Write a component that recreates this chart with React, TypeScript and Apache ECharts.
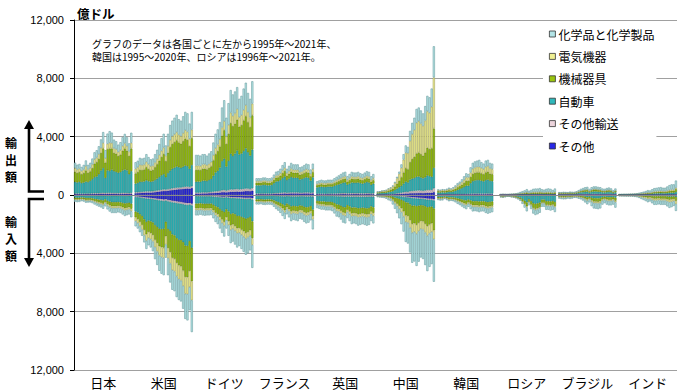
import React, { useEffect, useRef } from 'react';
import * as echarts from 'echarts';

const COUNTRIES = ['日本', '米国', 'ドイツ', 'フランス', '英国', '中国', '韓国', 'ロシア', 'ブラジル', 'インド'];
const YEARS = [1995, 1996, 1997, 1998, 1999, 2000, 2001, 2002, 2003, 2004, 2005, 2006, 2007, 2008, 2009, 2010, 2011, 2012, 2013, 2014, 2015, 2016, 2017, 2018, 2019, 2020, 2021];
// stacking order from the zero line outward
const SERIES_NAMES = ['その他', 'その他輸送', '自動車', '機械器具', '電気機器', '化学品と化学製品'];
const LEGEND_ORDER = ['化学品と化学製品', '電気機器', '機械器具', '自動車', 'その他輸送', 'その他'];
const COLORS = ['#2828e6', '#ecd4dc', '#30b8bb', '#99c40e', '#f0f092', '#b3e4e6'];
const EDGE_COLORS = ['#15158a', '#9a8890', '#1d7f82', '#5f7d05', '#a3a35e', '#6e9fa1'];
const Y_TICK_LABELS = ['12,000', '8,000', '4,000', '0', '4,000', '8,000', '12,000'];

// 億ドル ; rows: その他, その他輸送, 自動車, 機械器具, 電気機器, 化学品と化学製品
const JP_EXPORT = [
  [60, 60, 60, 55, 55, 60, 60, 60, 65, 70, 70, 70, 75, 80, 70, 80, 80, 80, 75, 75, 70, 70, 75, 80, 80, 70, 80],
  [40, 40, 40, 40, 40, 40, 40, 40, 45, 50, 50, 55, 60, 65, 55, 60, 60, 60, 55, 55, 55, 55, 60, 60, 60, 55, 60],
  [800, 760, 800, 720, 760, 820, 780, 870, 980, 1100, 1150, 1300, 1550, 1700, 1050, 1550, 1500, 1600, 1500, 1450, 1400, 1450, 1550, 1600, 1550, 1300, 1500],
  [680, 650, 670, 610, 650, 760, 640, 650, 750, 930, 980, 1050, 1200, 1350, 1050, 1450, 1550, 1450, 1250, 1250, 1150, 1200, 1350, 1450, 1350, 1250, 1550],
  [260, 240, 240, 220, 240, 290, 230, 240, 260, 300, 320, 330, 350, 370, 300, 370, 390, 370, 320, 310, 280, 300, 330, 350, 320, 310, 380],
  [380, 330, 320, 280, 320, 400, 320, 350, 400, 480, 500, 540, 580, 750, 550, 700, 800, 720, 600, 550, 500, 550, 600, 650, 600, 560, 700],
];
const JP_IMPORT = [
  [20, 20, 20, 20, 20, 20, 20, 20, 20, 25, 25, 25, 25, 30, 25, 30, 30, 30, 30, 30, 30, 30, 30, 35, 35, 30, 35],
  [20, 20, 20, 20, 20, 20, 20, 20, 20, 20, 25, 25, 25, 25, 20, 25, 25, 25, 25, 25, 25, 25, 25, 25, 25, 25, 25],
  [140, 150, 150, 130, 140, 170, 170, 170, 190, 220, 240, 270, 290, 320, 260, 340, 400, 440, 440, 440, 430, 450, 490, 520, 500, 480, 540],
  [110, 120, 115, 100, 110, 130, 125, 120, 130, 150, 170, 190, 200, 220, 180, 230, 260, 280, 280, 280, 270, 280, 300, 330, 320, 310, 350],
  [50, 55, 50, 45, 50, 60, 55, 55, 60, 70, 80, 85, 95, 100, 85, 110, 120, 130, 130, 130, 125, 130, 140, 150, 145, 140, 160],
  [120, 130, 125, 110, 115, 130, 130, 125, 140, 165, 185, 205, 220, 250, 210, 255, 300, 330, 330, 330, 310, 320, 350, 380, 365, 350, 420],
];
const US_EXPORT = [
  [120, 130, 140, 150, 160, 170, 170, 170, 180, 200, 220, 240, 260, 280, 280, 300, 320, 340, 360, 380, 390, 400, 420, 440, 450, 440, 480],
  [60, 60, 65, 70, 70, 75, 75, 75, 75, 80, 85, 90, 95, 100, 90, 100, 105, 110, 115, 120, 115, 115, 120, 125, 125, 110, 120],
  [600, 640, 700, 680, 700, 760, 700, 660, 680, 740, 820, 900, 1000, 1050, 850, 1100, 1250, 1350, 1400, 1450, 1400, 1350, 1400, 1450, 1400, 1250, 1450],
  [700, 740, 820, 800, 820, 900, 830, 770, 780, 880, 980, 1120, 1250, 1380, 1100, 1400, 1600, 1700, 1750, 1800, 1700, 1650, 1750, 1850, 1800, 1550, 1850],
  [320, 330, 350, 340, 340, 370, 330, 300, 300, 330, 360, 400, 430, 450, 380, 450, 500, 530, 540, 560, 530, 520, 550, 580, 570, 500, 580],
  [450, 450, 475, 460, 460, 525, 495, 475, 485, 570, 635, 750, 865, 940, 700, 850, 1025, 1070, 1135, 1190, 1065, 1065, 1160, 1255, 1255, 1050, 1220],
];
const US_IMPORT = [
  [100, 110, 125, 140, 160, 180, 190, 200, 220, 240, 260, 280, 300, 320, 300, 340, 370, 400, 420, 450, 470, 490, 520, 550, 570, 560, 600],
  [40, 45, 50, 55, 60, 65, 65, 65, 70, 75, 80, 85, 90, 95, 85, 95, 100, 105, 105, 110, 110, 110, 115, 120, 120, 100, 120],
  [1000, 1050, 1150, 1250, 1450, 1600, 1500, 1550, 1600, 1750, 1850, 1950, 1950, 1900, 1450, 1900, 2000, 2200, 2250, 2400, 2500, 2500, 2600, 2800, 2800, 2500, 2900],
  [400, 450, 520, 600, 720, 850, 780, 800, 850, 1000, 1100, 1200, 1250, 1300, 1000, 1300, 1450, 1600, 1600, 1700, 1750, 1800, 1950, 2150, 2150, 2050, 2300],
  [250, 270, 300, 330, 380, 440, 410, 420, 450, 520, 580, 640, 680, 700, 560, 700, 780, 850, 870, 920, 950, 970, 1050, 1150, 1160, 1100, 1300],
  [360, 375, 405, 425, 480, 565, 505, 565, 660, 815, 930, 1045, 1130, 1185, 905, 1165, 1300, 1345, 1355, 1420, 1420, 1430, 1565, 1730, 1800, 1590, 2180],
];
const DE_EXPORT = [
  [100, 100, 100, 110, 110, 110, 120, 130, 140, 150, 160, 170, 190, 200, 180, 200, 220, 220, 230, 240, 230, 240, 250, 270, 270, 260, 300],
  [60, 60, 60, 65, 65, 65, 70, 75, 85, 95, 100, 110, 130, 140, 120, 140, 160, 155, 160, 165, 150, 155, 165, 175, 165, 140, 165],
  [750, 760, 750, 800, 810, 780, 840, 900, 1100, 1300, 1400, 1600, 2000, 2150, 1650, 2000, 2450, 2300, 2450, 2650, 2400, 2450, 2600, 2750, 2500, 2300, 2650],
  [800, 800, 790, 820, 820, 800, 820, 860, 1050, 1250, 1350, 1450, 1750, 1950, 1550, 1850, 2100, 2050, 2050, 2100, 1900, 1950, 2100, 2200, 2050, 1950, 2350],
  [300, 300, 290, 300, 300, 290, 300, 310, 360, 420, 450, 490, 560, 620, 520, 620, 720, 700, 710, 750, 650, 680, 720, 760, 700, 670, 800],
  [740, 730, 710, 705, 695, 655, 700, 725, 865, 985, 1040, 1180, 1370, 1440, 1280, 1490, 1550, 1475, 1500, 1495, 1270, 1325, 1465, 1545, 1315, 1280, 1535],
];
const DE_IMPORT = [
  [60, 60, 60, 65, 65, 65, 70, 70, 80, 90, 100, 110, 120, 130, 110, 130, 150, 150, 160, 170, 170, 180, 190, 200, 200, 190, 230],
  [30, 30, 30, 30, 30, 30, 30, 30, 35, 40, 45, 50, 55, 60, 50, 55, 60, 60, 65, 65, 65, 70, 70, 75, 75, 65, 80],
  [500, 500, 480, 500, 510, 500, 500, 490, 560, 650, 700, 800, 900, 980, 820, 950, 1100, 1050, 1100, 1200, 1200, 1250, 1300, 1350, 1300, 1250, 1500],
  [330, 330, 320, 330, 335, 330, 330, 325, 380, 440, 470, 540, 610, 670, 540, 660, 780, 760, 810, 850, 830, 880, 930, 980, 960, 920, 1150],
  [130, 130, 125, 130, 130, 130, 130, 125, 145, 170, 185, 210, 240, 260, 210, 260, 310, 300, 320, 340, 330, 350, 370, 390, 380, 360, 460],
  [350, 350, 335, 345, 350, 345, 340, 340, 400, 460, 500, 590, 675, 750, 570, 745, 900, 880, 945, 975, 905, 970, 1040, 1105, 1085, 1015, 1580],
];
const FR_EXPORT = [
  [60, 60, 60, 60, 60, 60, 60, 60, 70, 80, 80, 90, 100, 110, 90, 100, 110, 110, 110, 110, 100, 100, 110, 110, 110, 100, 110],
  [40, 40, 40, 40, 40, 40, 40, 40, 45, 50, 50, 55, 60, 65, 55, 60, 65, 60, 60, 60, 55, 55, 60, 60, 60, 50, 60],
  [560, 560, 560, 590, 590, 560, 560, 590, 690, 790, 810, 880, 1000, 1090, 880, 970, 1060, 1010, 1010, 1010, 910, 940, 990, 1040, 1010, 840, 1040],
  [180, 180, 180, 190, 190, 180, 180, 190, 230, 260, 270, 300, 340, 380, 300, 330, 370, 350, 350, 350, 320, 330, 340, 360, 350, 290, 360],
  [110, 110, 110, 115, 115, 110, 110, 115, 135, 150, 155, 170, 190, 210, 170, 190, 210, 200, 200, 200, 180, 185, 190, 200, 195, 165, 200],
  [200, 200, 200, 205, 205, 200, 200, 205, 230, 270, 285, 305, 360, 395, 305, 350, 385, 370, 370, 370, 335, 340, 360, 380, 375, 305, 380],
];
const FR_IMPORT = [
  [40, 40, 38, 40, 42, 40, 40, 42, 45, 50, 55, 60, 65, 70, 60, 65, 70, 70, 70, 70, 65, 65, 70, 72, 72, 68, 80],
  [20, 20, 20, 20, 20, 20, 20, 20, 22, 25, 28, 30, 32, 35, 30, 32, 35, 35, 35, 35, 32, 32, 35, 36, 36, 32, 40],
  [240, 240, 230, 250, 255, 245, 245, 255, 300, 360, 400, 460, 540, 620, 500, 580, 680, 640, 660, 680, 620, 640, 700, 740, 720, 660, 880],
  [130, 130, 125, 135, 135, 130, 130, 135, 160, 190, 210, 240, 280, 320, 260, 300, 350, 330, 340, 350, 320, 330, 360, 380, 370, 340, 450],
  [60, 60, 60, 65, 65, 65, 65, 65, 80, 95, 105, 120, 140, 160, 130, 150, 175, 165, 170, 175, 160, 165, 180, 190, 185, 170, 230],
  [160, 160, 155, 160, 165, 160, 160, 165, 200, 245, 275, 320, 380, 440, 350, 410, 485, 455, 470, 485, 440, 455, 500, 530, 515, 470, 680],
];
const UK_EXPORT = [
  [50, 50, 52, 50, 50, 52, 52, 52, 55, 58, 60, 62, 65, 68, 60, 62, 65, 65, 65, 66, 62, 60, 62, 65, 64, 55, 60],
  [40, 40, 42, 40, 40, 42, 42, 42, 44, 46, 48, 50, 52, 55, 48, 50, 52, 52, 52, 53, 50, 48, 50, 52, 51, 44, 48],
  [430, 460, 480, 460, 460, 480, 480, 480, 530, 580, 620, 670, 720, 740, 600, 670, 740, 720, 720, 740, 700, 670, 720, 770, 740, 600, 670],
  [150, 160, 170, 160, 160, 170, 170, 170, 185, 200, 220, 235, 250, 260, 210, 235, 260, 250, 250, 260, 240, 235, 250, 265, 260, 210, 235],
  [90, 95, 100, 95, 95, 100, 100, 100, 110, 120, 130, 140, 150, 155, 125, 140, 155, 150, 150, 155, 145, 140, 150, 160, 155, 125, 140],
  [190, 195, 205, 195, 195, 205, 205, 205, 225, 245, 265, 285, 305, 315, 255, 285, 315, 305, 305, 315, 295, 285, 305, 325, 315, 255, 285],
];
const UK_IMPORT = [
  [40, 40, 42, 42, 44, 44, 44, 46, 50, 55, 58, 62, 66, 68, 60, 64, 68, 68, 68, 70, 70, 68, 70, 72, 70, 64, 68],
  [30, 30, 31, 31, 32, 32, 32, 33, 36, 40, 42, 45, 48, 50, 44, 47, 50, 50, 50, 52, 52, 50, 52, 53, 52, 46, 50],
  [330, 350, 370, 370, 390, 390, 390, 410, 470, 550, 570, 630, 710, 730, 590, 670, 750, 730, 750, 790, 770, 750, 770, 790, 770, 670, 730],
  [190, 200, 210, 210, 220, 220, 220, 230, 260, 300, 310, 340, 380, 390, 320, 360, 400, 390, 400, 420, 410, 400, 410, 420, 410, 360, 390],
  [90, 95, 100, 100, 105, 105, 105, 110, 125, 145, 150, 165, 185, 190, 155, 175, 195, 190, 195, 205, 200, 195, 200, 205, 200, 175, 190],
  [220, 235, 250, 250, 265, 265, 265, 280, 325, 385, 400, 445, 505, 520, 415, 475, 535, 520, 535, 565, 550, 535, 550, 565, 550, 475, 520],
];
const CN_EXPORT = [
  [20, 20, 25, 25, 30, 35, 40, 45, 55, 65, 75, 85, 95, 105, 100, 115, 120, 125, 130, 135, 135, 130, 140, 150, 150, 160, 200],
  [10, 10, 15, 15, 15, 20, 20, 25, 35, 45, 55, 70, 90, 110, 110, 140, 150, 160, 170, 180, 170, 160, 170, 190, 190, 190, 260],
  [80, 90, 100, 105, 115, 140, 160, 190, 250, 330, 400, 480, 600, 700, 650, 800, 850, 880, 950, 950, 900, 850, 900, 1000, 950, 900, 1400],
  [60, 65, 75, 80, 90, 115, 135, 170, 240, 340, 440, 580, 760, 920, 900, 1200, 1350, 1450, 1600, 1650, 1600, 1550, 1700, 1900, 1850, 1950, 2700],
  [40, 45, 55, 60, 65, 100, 120, 160, 240, 360, 480, 650, 880, 1060, 1100, 1450, 1700, 1850, 2100, 2150, 2100, 2050, 2200, 2500, 2500, 2850, 3500],
  [20, 20, 30, 35, 35, 40, 45, 60, 80, 110, 150, 235, 375, 505, 440, 695, 780, 835, 950, 935, 895, 860, 990, 1060, 1060, 1250, 2140],
];
const CN_IMPORT = [
  [10, 10, 10, 12, 15, 20, 25, 30, 40, 50, 60, 75, 90, 110, 120, 140, 160, 170, 180, 190, 200, 210, 230, 250, 260, 270, 300],
  [5, 5, 5, 6, 8, 10, 12, 15, 20, 25, 30, 35, 40, 45, 45, 50, 55, 55, 60, 60, 60, 60, 65, 70, 70, 70, 80],
  [15, 17, 20, 22, 27, 40, 45, 80, 120, 150, 180, 220, 280, 350, 360, 450, 520, 500, 530, 480, 440, 450, 480, 520, 480, 460, 550],
  [45, 50, 55, 60, 75, 105, 120, 190, 280, 370, 470, 580, 720, 900, 920, 1080, 1250, 1220, 1280, 1180, 1080, 1100, 1200, 1300, 1220, 1150, 1500],
  [20, 23, 25, 28, 35, 50, 55, 90, 130, 170, 220, 280, 350, 440, 450, 520, 600, 580, 620, 580, 540, 550, 600, 650, 610, 580, 600],
  [55, 65, 75, 82, 100, 135, 163, 245, 360, 485, 640, 815, 1030, 1375, 1435, 1700, 2065, 2035, 2195, 2085, 1965, 2020, 2230, 2430, 2290, 2210, 2920],
];
const KR_EXPORT = [
  [20, 20, 20, 20, 20, 22, 22, 22, 24, 26, 28, 30, 32, 34, 34, 38, 40, 40, 42, 42, 40, 40, 42, 42, 40, 40, null],
  [20, 20, 22, 20, 22, 24, 22, 24, 26, 30, 32, 36, 40, 44, 44, 50, 55, 56, 58, 58, 56, 54, 58, 60, 56, 54, null],
  [130, 125, 140, 130, 150, 175, 160, 190, 240, 300, 340, 400, 480, 560, 560, 720, 850, 900, 920, 920, 880, 840, 920, 950, 870, 850, null],
  [90, 85, 95, 90, 100, 115, 105, 120, 145, 175, 205, 240, 280, 330, 330, 430, 500, 520, 530, 530, 510, 490, 530, 540, 500, 480, null],
  [60, 55, 60, 60, 70, 80, 75, 85, 105, 135, 155, 180, 210, 240, 240, 300, 350, 370, 380, 380, 370, 350, 380, 390, 360, 350, null],
  [60, 55, 65, 60, 70, 90, 70, 95, 120, 150, 160, 190, 240, 280, 230, 360, 410, 420, 430, 480, 400, 380, 430, 430, 380, 380, null],
];
const KR_IMPORT = [
  [10, 10, 10, 8, 10, 12, 11, 12, 13, 15, 16, 18, 20, 21, 18, 21, 24, 23, 24, 25, 24, 24, 26, 27, 26, 25, null],
  [10, 11, 11, 9, 10, 11, 10, 11, 12, 14, 15, 17, 19, 20, 17, 20, 22, 22, 23, 24, 23, 23, 25, 26, 25, 24, null],
  [120, 130, 125, 95, 120, 150, 140, 150, 175, 210, 240, 275, 310, 335, 280, 335, 385, 385, 385, 400, 385, 385, 420, 440, 420, 400, null],
  [85, 95, 90, 70, 85, 105, 100, 105, 125, 150, 170, 195, 220, 235, 200, 235, 275, 275, 275, 290, 275, 275, 300, 310, 300, 290, null],
  [35, 38, 37, 28, 35, 43, 40, 43, 50, 60, 68, 78, 88, 95, 80, 95, 110, 110, 110, 115, 110, 110, 120, 125, 120, 115, null],
  [90, 97, 98, 67, 90, 112, 100, 112, 130, 160, 182, 212, 242, 265, 220, 265, 310, 290, 310, 325, 310, 310, 340, 355, 340, 325, null],
];
const RU_EXPORT = [
  [null, 10, 10, 10, 10, 10, 10, 11, 12, 14, 16, 18, 20, 22, 18, 20, 22, 22, 22, 23, 20, 19, 21, 22, 21, 18, 22],
  [null, 8, 9, 8, 8, 9, 10, 10, 11, 13, 15, 17, 19, 21, 17, 19, 21, 21, 21, 22, 19, 18, 20, 21, 20, 17, 21],
  [null, 5, 5, 5, 5, 5, 8, 10, 12, 15, 20, 25, 30, 35, 25, 30, 40, 40, 40, 45, 35, 30, 35, 40, 35, 30, 40],
  [null, 10, 12, 11, 10, 12, 14, 16, 20, 28, 38, 48, 58, 75, 55, 65, 80, 85, 85, 90, 75, 70, 80, 85, 80, 65, 85],
  [null, 5, 6, 5, 5, 6, 7, 8, 10, 14, 18, 22, 27, 35, 25, 30, 38, 40, 40, 42, 35, 32, 37, 40, 37, 30, 40],
  [null, 20, 27, 24, 20, 27, 31, 36, 48, 73, 104, 135, 165, 215, 155, 185, 222, 235, 235, 253, 215, 198, 228, 245, 228, 185, 235],
];
const RU_IMPORT = [
  [null, 5, 5, 5, 4, 4, 5, 5, 6, 7, 8, 10, 12, 14, 10, 12, 14, 15, 14, 13, 10, 10, 12, 12, 12, 12, 13],
  [null, 10, 10, 9, 8, 8, 9, 10, 11, 12, 14, 17, 20, 23, 17, 20, 23, 24, 23, 22, 17, 17, 20, 20, 21, 20, 22],
  [null, 55, 65, 50, 35, 40, 55, 65, 85, 115, 160, 250, 360, 470, 260, 390, 530, 570, 540, 490, 290, 290, 390, 390, 410, 380, 440],
  [null, 40, 45, 38, 27, 30, 40, 48, 60, 78, 100, 150, 210, 270, 180, 240, 310, 340, 330, 300, 210, 210, 250, 250, 260, 250, 290],
  [null, 10, 12, 10, 7, 8, 10, 12, 16, 20, 27, 40, 56, 72, 48, 64, 83, 90, 87, 80, 56, 56, 67, 67, 70, 67, 77],
  [null, 30, 33, 27, 16, 17, 30, 40, 54, 72, 98, 145, 209, 273, 197, 241, 312, 335, 328, 315, 229, 229, 278, 278, 295, 288, 328],
];
const BR_EXPORT = [
  [10, 10, 11, 10, 10, 11, 11, 11, 12, 14, 16, 18, 20, 21, 17, 20, 22, 22, 21, 20, 18, 17, 19, 20, 18, 14, 18],
  [25, 25, 27, 26, 25, 28, 27, 27, 30, 36, 42, 46, 50, 52, 42, 50, 55, 55, 52, 50, 44, 42, 46, 48, 44, 34, 44],
  [50, 50, 55, 52, 48, 58, 55, 55, 65, 90, 120, 135, 150, 155, 110, 150, 165, 165, 155, 150, 120, 115, 135, 145, 125, 85, 120],
  [45, 45, 50, 48, 45, 52, 50, 50, 57, 72, 90, 100, 112, 118, 90, 112, 125, 125, 118, 112, 95, 90, 100, 108, 97, 72, 95],
  [10, 10, 11, 10, 10, 12, 11, 11, 13, 16, 20, 22, 25, 26, 20, 25, 28, 28, 26, 25, 21, 20, 22, 24, 22, 16, 21],
  [60, 60, 69, 65, 62, 73, 69, 69, 80, 107, 135, 158, 178, 186, 145, 178, 197, 197, 186, 178, 149, 140, 158, 168, 151, 112, 149],
];
const BR_IMPORT = [
  [5, 5, 5, 5, 5, 5, 5, 4, 4, 5, 6, 7, 9, 10, 8, 11, 13, 13, 13, 12, 9, 8, 9, 10, 10, 9, 12],
  [10, 11, 11, 11, 10, 10, 10, 8, 8, 10, 11, 13, 16, 19, 16, 20, 23, 24, 24, 23, 17, 15, 17, 18, 18, 17, 22],
  [50, 60, 65, 60, 45, 50, 45, 35, 35, 45, 55, 70, 100, 130, 100, 160, 190, 190, 195, 180, 120, 95, 120, 130, 125, 110, 150],
  [65, 70, 75, 72, 62, 68, 62, 50, 52, 65, 75, 95, 125, 155, 125, 185, 225, 230, 235, 225, 160, 135, 160, 175, 175, 160, 210],
  [30, 34, 36, 35, 30, 33, 30, 24, 25, 31, 36, 46, 60, 75, 60, 90, 108, 110, 114, 108, 78, 66, 78, 84, 84, 78, 102],
  [90, 101, 109, 108, 98, 104, 98, 76, 83, 104, 119, 154, 200, 245, 200, 300, 362, 375, 391, 372, 277, 239, 277, 296, 301, 287, 373],
];
const IN_EXPORT = [
  [5, 5, 5, 5, 5, 6, 6, 6, 7, 8, 9, 10, 11, 12, 11, 13, 15, 15, 16, 16, 15, 15, 17, 19, 20, 20, 24],
  [5, 5, 5, 5, 6, 6, 6, 7, 8, 9, 10, 11, 12, 13, 12, 14, 16, 16, 17, 17, 16, 16, 18, 20, 21, 21, 26],
  [8, 9, 10, 10, 11, 12, 13, 15, 18, 23, 28, 35, 42, 52, 48, 62, 75, 78, 85, 90, 80, 80, 95, 110, 120, 115, 160],
  [12, 13, 14, 14, 15, 17, 18, 20, 24, 30, 36, 44, 52, 64, 60, 76, 90, 94, 100, 104, 96, 96, 112, 130, 140, 140, 190],
  [6, 6, 7, 7, 7, 8, 9, 10, 12, 15, 18, 22, 26, 32, 30, 38, 45, 47, 50, 52, 48, 48, 56, 65, 70, 70, 95],
  [24, 27, 29, 29, 32, 38, 40, 45, 56, 72, 88, 109, 130, 162, 152, 194, 230, 241, 255, 264, 246, 246, 287, 335, 360, 365, 495],
];
const IN_IMPORT = [
  [5, 5, 5, 5, 5, 5, 6, 6, 7, 8, 10, 12, 14, 16, 14, 17, 20, 20, 19, 20, 20, 20, 23, 26, 24, 22, 30],
  [5, 5, 5, 5, 5, 5, 5, 6, 7, 8, 10, 11, 12, 14, 12, 15, 17, 17, 16, 17, 17, 17, 19, 21, 20, 18, 25],
  [6, 7, 7, 8, 8, 8, 9, 10, 12, 16, 22, 27, 32, 38, 34, 44, 52, 52, 50, 52, 52, 52, 60, 68, 64, 58, 84],
  [20, 21, 22, 24, 25, 25, 27, 32, 37, 50, 68, 83, 100, 120, 108, 138, 163, 163, 155, 163, 163, 163, 188, 213, 200, 180, 263],
  [16, 17, 18, 19, 20, 20, 22, 26, 30, 40, 54, 66, 80, 96, 86, 110, 130, 130, 124, 130, 130, 130, 150, 170, 160, 144, 210],
  [28, 30, 33, 34, 37, 37, 42, 52, 61, 84, 116, 144, 178, 216, 192, 248, 295, 295, 281, 295, 295, 295, 342, 389, 366, 328, 483],
];

const EXPORTS = [JP_EXPORT, US_EXPORT, DE_EXPORT, FR_EXPORT, UK_EXPORT, CN_EXPORT, KR_EXPORT, RU_EXPORT, BR_EXPORT, IN_EXPORT];
const IMPORTS = [JP_IMPORT, US_IMPORT, DE_IMPORT, FR_IMPORT, UK_IMPORT, CN_IMPORT, KR_IMPORT, RU_IMPORT, BR_IMPORT, IN_IMPORT];

const FONT_JP = '"Noto Sans CJK JP", "Noto Sans", sans-serif';

function buildOption() {
  const slots = YEARS.length + 1;
  const categories: string[] = [];
  COUNTRIES.forEach((c, k) => {
    if (k > 0) categories.push('gap-' + k);
    YEARS.forEach((y) => categories.push(c + '-' + y));
  });
  const seriesFor = (table: (number | null)[][][], s: number, sign: number) => {
    const out: (number | null)[] = [];
    table.forEach((country, k) => {
      if (k > 0) out.push(null);
      country[s].forEach((v) => out.push(v == null ? null : sign * v));
    });
    return out;
  };
  const barStyle = (s: number) => ({ color: COLORS[s], borderColor: EDGE_COLORS[s], borderWidth: 0.6 });
  const series: any[] = [];
  const addSeries = (table: any, sign: number) => {
    SERIES_NAMES.forEach((name, s) => {
      series.push({
        type: 'bar', name, stack: 'all', barCategoryGap: '0%',
        data: seriesFor(table, s, sign),
        itemStyle: barStyle(s),
        emphasis: { disabled: true },
      });
    });
  };
  addSeries(EXPORTS, 1);
  addSeries(IMPORTS, -1);
  series[series.length - 1].markLine = {
    silent: true, symbol: 'none', label: { show: false },
    lineStyle: { color: '#8a8a8a', width: 1, type: 'solid' },
    data: [{ yAxis: 0 }],
  };

  const txt = (x: number, y: number, text: string, size: number, extra: any = {}) => ({
    type: 'text', x, y, silent: true,
    style: { text, fill: '#000', font: `${extra.weight || 'normal'} ${size}px ${FONT_JP}`, align: extra.align || 'left', verticalAlign: 'middle', lineHeight: extra.lineHeight || Math.round(size * 1.1) },
  });

  return {
    animation: false,
    backgroundColor: '#fff',
    grid: { left: 74, right: 23, top: 20, bottom: 22 },
    legend: {
      data: LEGEND_ORDER, orient: 'vertical', left: 543, top: 22,
      itemWidth: 6, itemHeight: 6, itemGap: 8.4, icon: 'rect',
      padding: [5, 2, 8, 6], backgroundColor: '#fff', selectedMode: false,
      itemStyle: { borderColor: '#333', borderWidth: 0.8 },
      textStyle: { fontSize: 12, color: '#000', fontFamily: FONT_JP, lineHeight: 14, padding: [0, 0, 0, -2] },
    },
    xAxis: {
      type: 'category', data: categories,
      axisLine: { show: false, onZero: false }, axisTick: { show: false },
      axisLabel: {
        interval: (i: number) => i % slots === 13,
        formatter: (v: string) => v.split('-')[0],
        fontSize: 13, color: '#000', fontFamily: FONT_JP, margin: 6,
      },
      splitLine: { show: false },
    },
    yAxis: {
      type: 'value', min: -12000, max: 12000, interval: 4000,
      axisLine: { show: true, lineStyle: { color: '#000', width: 1 } },
      axisTick: { show: true, length: 4, lineStyle: { color: '#000' } },
      axisLabel: {
        formatter: (v: number) => Y_TICK_LABELS[Math.round((12000 - v) / 4000)],
        fontSize: 11, color: '#000', fontFamily: '"Liberation Sans", Arial, sans-serif', margin: 10,
      },
      splitLine: { show: true, lineStyle: { color: '#a0a0a0', width: 1 } },
    },
    graphic: [
      txt(77, 13, '億ドル', 12.5, { weight: 'bold' }),
      txt(92, 43, 'グラフのデータは各国ごとに左から1995年～2021年、', 10),
      txt(92, 56.5, '韓国は1995～2020年、ロシアは1996年～2021年。', 10),
      txt(11, 142, '輸', 12, { weight: 'bold', align: 'center', lineHeight: 13 }),
      txt(11, 159, '出', 12, { weight: 'bold', align: 'center', lineHeight: 13 }),
      txt(11, 176, '額', 12, { weight: 'bold', align: 'center', lineHeight: 13 }),
      txt(11, 221, '輸', 12, { weight: 'bold', align: 'center', lineHeight: 13 }),
      txt(11, 238, '入', 12, { weight: 'bold', align: 'center', lineHeight: 13 }),
      txt(11, 255, '額', 12, { weight: 'bold', align: 'center', lineHeight: 13 }),
      { type: 'polyline', silent: true, shape: { points: [[29, 127], [29, 191.5], [44, 191.5]] }, style: { stroke: '#000', lineWidth: 2.6, fill: null } },
      { type: 'polygon', silent: true, shape: { points: [[24, 129], [34, 129], [29, 120]] }, style: { fill: '#000' } },
      { type: 'polyline', silent: true, shape: { points: [[44, 199], [29, 199], [29, 259]] }, style: { stroke: '#000', lineWidth: 2.6, fill: null } },
      { type: 'polygon', silent: true, shape: { points: [[24, 258], [34, 258], [29, 267]] }, style: { fill: '#000' } },
    ],
    series,
  };
}

export default function App() {
  const ref = useRef<HTMLDivElement>(null);
  useEffect(() => {
    if (!ref.current) return;
    const chart = echarts.init(ref.current, undefined, { renderer: 'svg' });
    chart.setOption(buildOption() as any);
    return () => chart.dispose();
  }, []);
  return <div ref={ref} style={{ position: 'absolute', left: 0, top: 0, width: 700, height: 392, background: '#fff' }} />;
}
